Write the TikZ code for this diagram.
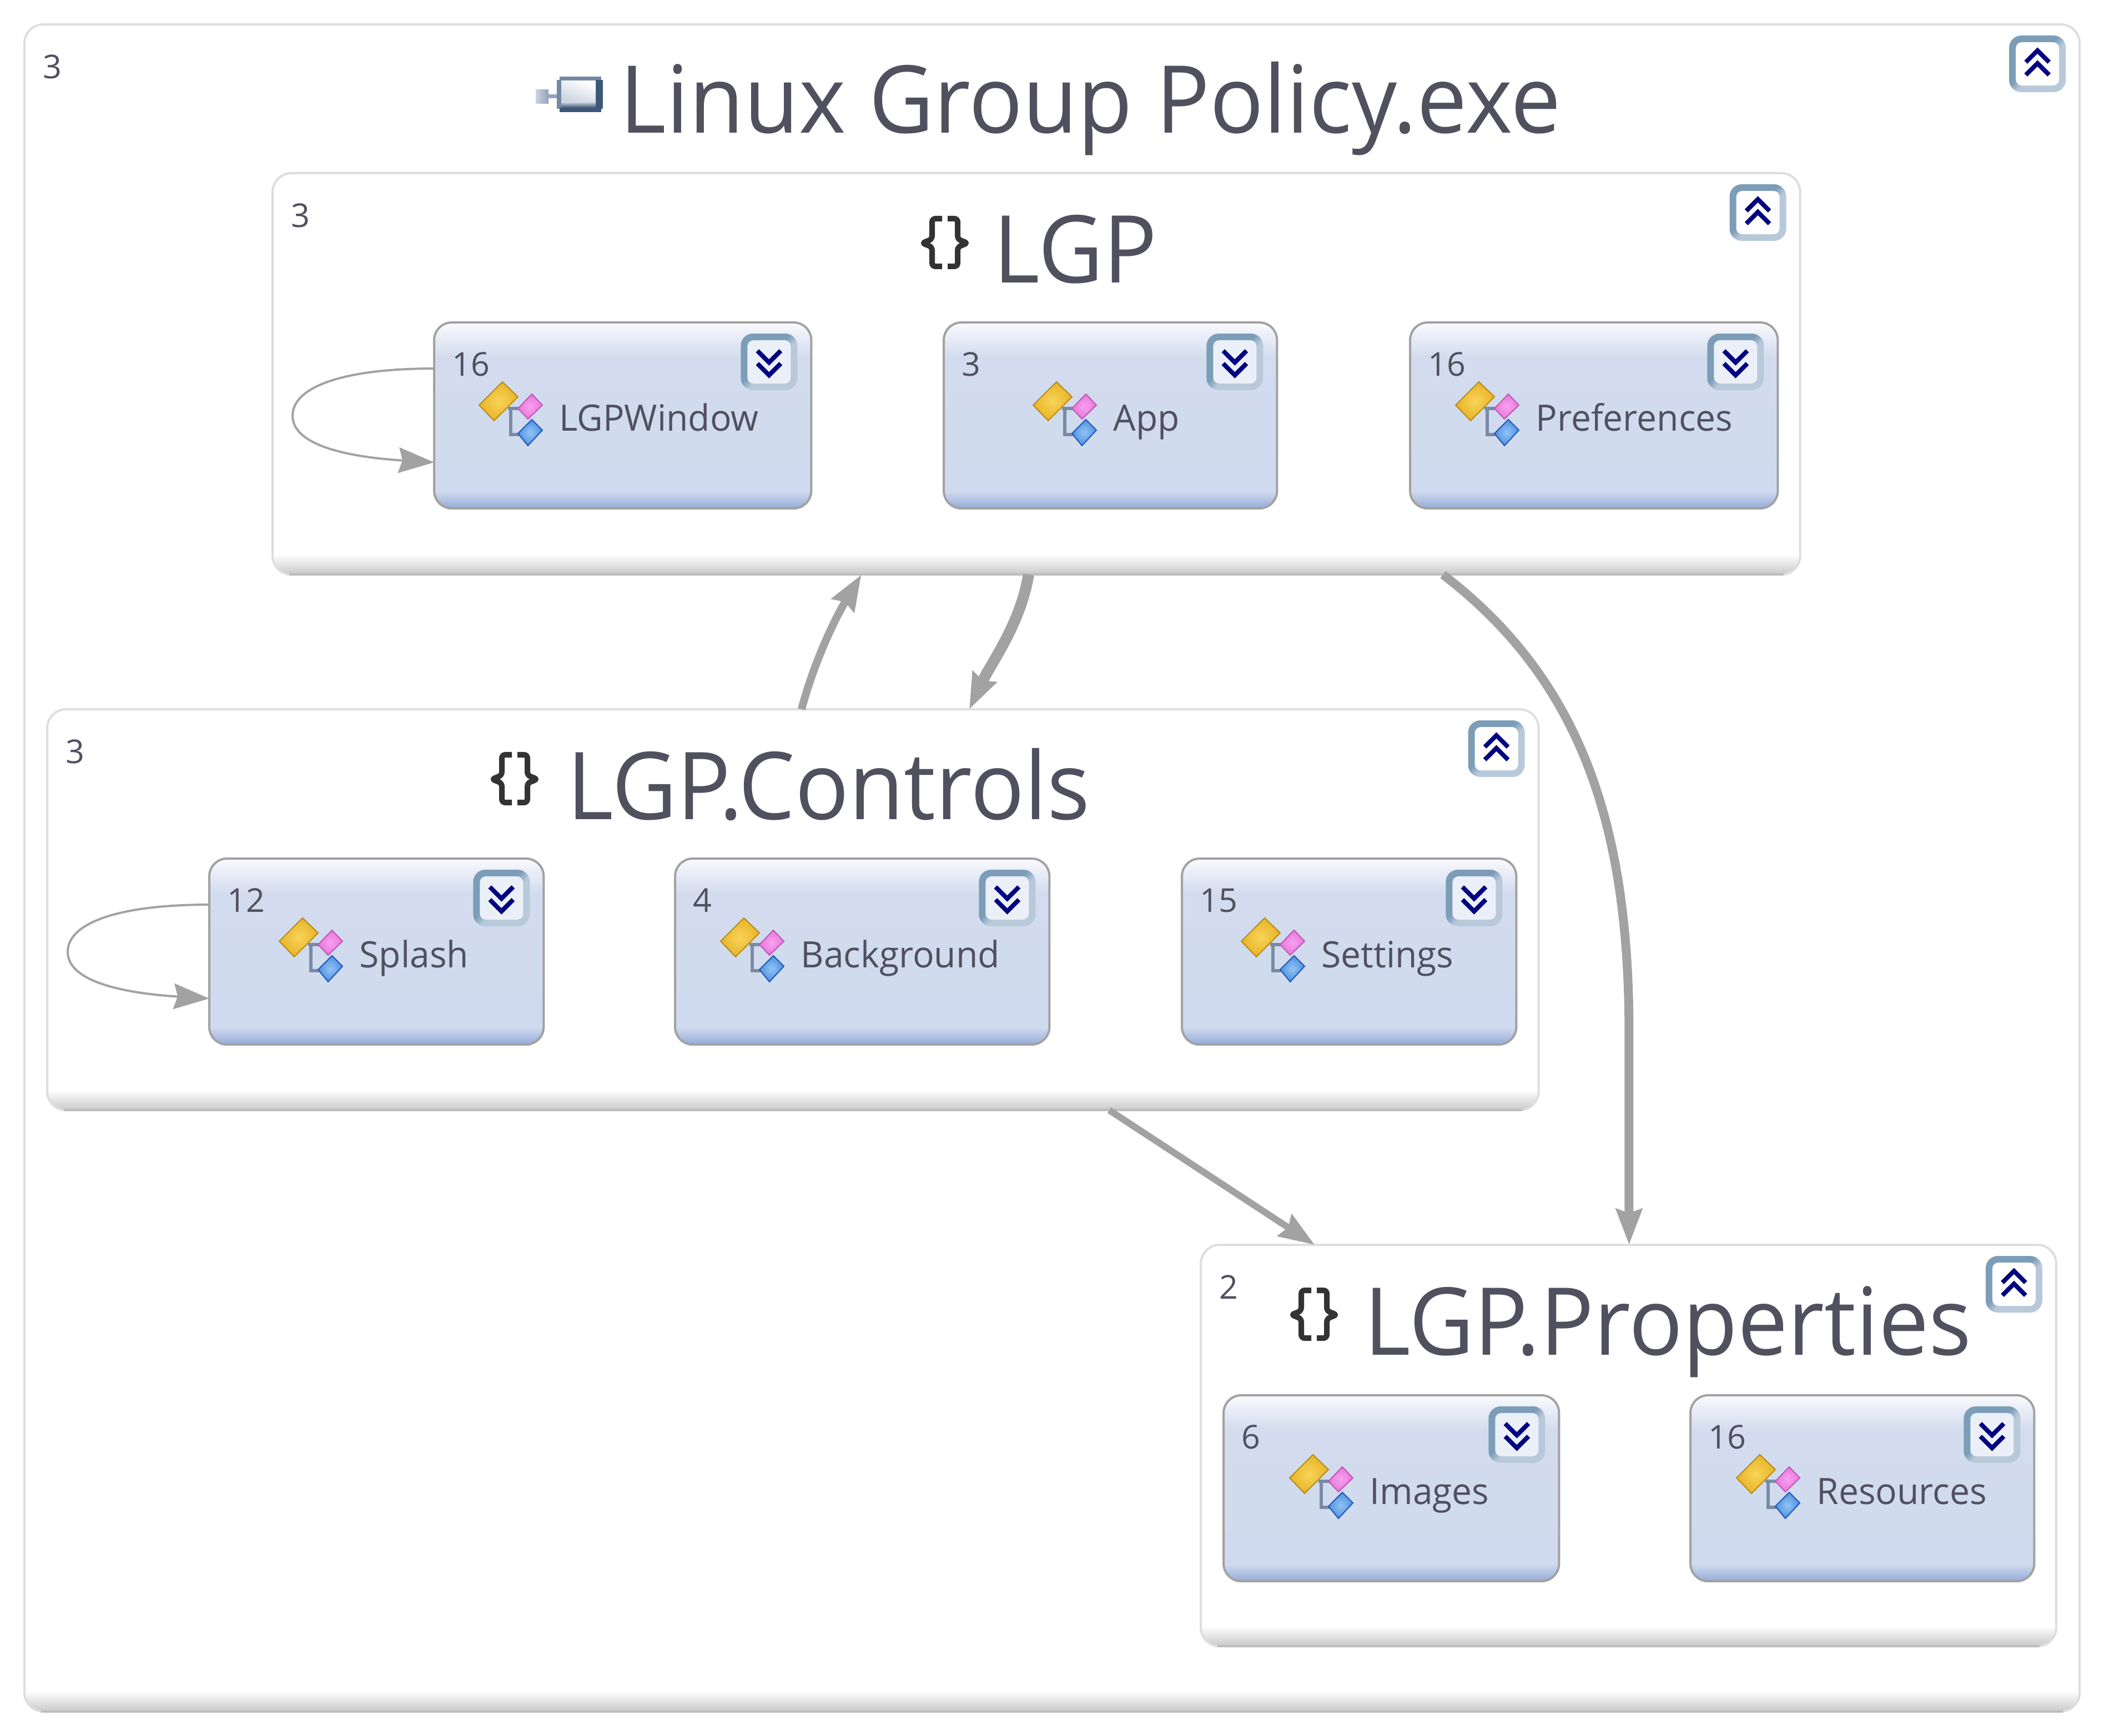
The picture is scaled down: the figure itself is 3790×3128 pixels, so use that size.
\documentclass[tikz,border=0pt]{standalone}
\usepackage{fontspec}
\setmainfont{Open Sans}
\newfontfamily\bigtitlefont[FakeStretch=0.955]{Open Sans}
\newfontfamily\typetitlefont[FakeStretch=0.98]{Open Sans}
\usetikzlibrary{arrows.meta}

\definecolor{inktext}{HTML}{50505F}
\definecolor{groupline}{HTML}{DEDEDE}
\definecolor{groupbase}{HTML}{BDBDBD}
\definecolor{groupshadow}{HTML}{C8C8C8}
\definecolor{linkgray}{HTML}{A2A2A2}
\definecolor{typetop}{HTML}{FAFBFD}
\definecolor{typemid}{HTML}{E8ECF7}
\definecolor{typefill}{HTML}{D3DCEE}
\definecolor{typelow}{HTML}{CFDAEE}
\definecolor{typebot}{HTML}{95ABD8}
\definecolor{ringdark}{HTML}{7C9DB8}
\definecolor{ringlight}{HTML}{B8C9DA}
\definecolor{chevblue}{HTML}{000080}
\definecolor{btnfill}{HTML}{EBF0F8}
\definecolor{iconline}{HTML}{7A8AA6}
\definecolor{yellowin}{HTML}{F8D458}
\definecolor{yellowout}{HTML}{E8B428}
\definecolor{yellowedge}{HTML}{B88C18}
\definecolor{pinkin}{HTML}{F8A0F0}
\definecolor{pinkout}{HTML}{E878D8}
\definecolor{pinkedge}{HTML}{C058B8}
\definecolor{bluein}{HTML}{90C4F4}
\definecolor{blueout}{HTML}{5090E0}
\definecolor{blueedge}{HTML}{2058B8}
\definecolor{exerim}{HTML}{7488A4}
\definecolor{exedark}{HTML}{3C5878}
\definecolor{exepale}{HTML}{CCD4E0}
\definecolor{exemid}{HTML}{93A3BC}

\pgfdeclareverticalshading{typeshade}{100bp}{color(0bp)=(typebot); color(25bp)=(typebot); color(29.6bp)=(typelow); color(65.7bp)=(typefill); color(71bp)=(typemid); color(75bp)=(typetop); color(100bp)=(typetop)}
\pgfdeclareverticalshading{groupshade}{100bp}{color(0bp)=(groupshadow); color(25bp)=(groupshadow); color(27.5bp)=(white); color(100bp)=(white)}
\pgfdeclareverticalshading{outershade}{100bp}{color(0bp)=(groupshadow); color(25bp)=(groupshadow); color(25.6bp)=(white); color(100bp)=(white)}
\pgfdeclareverticalshading{ringshade}{100bp}{color(0bp)=(ringlight); color(46bp)=(ringlight); color(54bp)=(ringdark); color(100bp)=(ringdark)}

\tikzset{
	groupbox/.style={anchor=north west, draw=groupline, line width=0.04cm, rounded corners=0.34cm, shade, shading=groupshade, inner sep=0, outer sep=0},
	typebox/.style={anchor=north west, draw=linkgray, line width=0.04cm, rounded corners=0.32cm, shade, shading=typeshade, inner sep=0, outer sep=0, minimum height=3.35cm},
	btnring/.style={shade, shading=ringshade, shading angle=45, rounded corners=0.22cm, inner sep=0, outer sep=0, minimum width=1.02cm, minimum height=1.02cm},
	btnface/.style={rounded corners=0.11cm, inner sep=0, outer sep=0, minimum width=0.78cm, minimum height=0.78cm},
	numtext/.style={anchor=base west, inner sep=0, text=inktext, font=\fontsize{16.8}{20}\selectfont},
	typetext/.style={anchor=base west, inner sep=0, text=inktext, font=\typetitlefont\fontsize{18.6}{22}\selectfont},
	bigtext/.style={anchor=base west, inner sep=0, text=inktext, font=\bigtitlefont\fontsize{48}{56}\selectfont},
	link/.style={draw=linkgray, -{Stealth[length=0.64cm, width=0.46cm, inset=0.07cm]}},
	chevup/.pic={
		\draw[chevblue, line width=0.08cm] (-21,-3) -- (0,-24) -- (21,-3);
		\draw[chevblue, line width=0.08cm] (-21,20) -- (0,-1) -- (21,20);
	},
	chevdown/.pic={
		\draw[chevblue, line width=0.08cm] (-21,3) -- (0,24) -- (21,3);
		\draw[chevblue, line width=0.08cm] (-21,-20) -- (0,1) -- (21,-20);
	},
	braceicon/.pic={
		\foreach \side in {1,-1}
			\draw[black!80, line width=0.1cm, rounded corners=0.06cm, xscale=\side] (-5,-44) -- (-23,-44) -- (-23,-7) -- (-41,0) -- (-23,7) -- (-23,42) -- (-5,42);
	},
	typeicon/.pic={
		\draw[iconline, line width=0.055cm] (52,48) -- (57,48) -- (57,95) -- (72,95) (57,48) -- (72,48);
		\shadedraw[inner color=yellowin, outer color=yellowout, draw=yellowedge, line width=0.02cm] (42,0) -- (70,27) -- (27,70) -- (0,42) -- cycle;
		\shadedraw[inner color=pinkin, outer color=pinkout, draw=pinkedge, line width=0.02cm] (95,22) -- (114,42) -- (88,67) -- (70,48) -- cycle;
		\shadedraw[inner color=bluein, outer color=blueout, draw=blueedge, line width=0.02cm] (95,68) -- (114,87) -- (88,115) -- (70,93) -- cycle;
	},
	exeicon/.pic={
		\shade[left color=exepale, right color=exemid] (0,24) rectangle (23,49);
		\fill[exemid] (23,32) rectangle (38,39);
		\fill[exerim] (38,6) rectangle (46,58);
		\fill[exerim] (43,0) rectangle (118,8);
		\fill[exedark] (43,56) rectangle (118,64);
		\fill[exedark] (108,6) rectangle (121,58);
		\shade[left color=white, right color=exepale, shading angle=-20] (46,8) rectangle (108,46);
		\shade[top color=exepale, bottom color=exedark] (46,46) rectangle (108,56);
	}
}

\begin{document}
\begin{tikzpicture}[x=0.01cm, y=-0.01cm]
	\useasboundingbox (0,0) rectangle (3790,3128);

	% groups
	\node[groupbox, shading=outershade, minimum width=37cm, minimum height=30.38cm] (exe) at (44,44) {};
	\node[groupbox, minimum width=27.5cm, minimum height=7.23cm] (lgp) at (491,312) {};
	\node[groupbox, minimum width=26.85cm, minimum height=7.22cm] (controls) at (85,1278) {};
	\node[groupbox, minimum width=15.4cm, minimum height=7.23cm] (props) at (2163,2243) {};
	\foreach \name in {exe, lgp, controls, props}
		\draw[groupbase, line width=0.04cm] ([xshift=0.3cm]\name.south west) -- ([xshift=-0.3cm]\name.south east);

	\foreach \name/\num in {exe/3, lgp/3, controls/3, props/2}
		\node[numtext] (\name-num) at ([xshift=0.33cm, yshift=-0.97cm]\name.north west) {\num};

	\foreach \name in {exe, lgp, controls, props} {
		\node[btnring] (\name-btn) at ([xshift=-0.76cm, yshift=-0.71cm]\name.north east) {};
		\node[btnface, fill=white] (\name-face) at (\name-btn) {};
		\pic at (\name-btn) {chevup};
	}

	% titles
	\pic at (965,138) {exeicon};
	\node[bigtext] (exe-title) at (1116,240) {Linux Group Policy.exe};
	\pic at (1702,438) {braceicon};
	\node[bigtext] (lgp-title) at (1789,510) {LGP};
	\pic at (927,1404) {braceicon};
	\node[bigtext] (controls-title) at (1021,1476) {LGP.Controls};
	\pic at (2367,2369) {braceicon};
	\node[bigtext] (props-title) at (2457,2441) {LGP.Properties};

	% types
	\foreach \name/\px/\py/\boxw/\iconx/\num/\ttl in {
		window/782/581/6.79/863/16/LGPWindow,
		app/1700/581/6.0/1861/3/App,
		prefs/2540/581/6.62/2622/16/Preferences,
		splash/377/1547/6.02/503/12/Splash,
		backgr/1216/1547/6.74/1298/4/Background,
		settings/2129/1547/6.02/2236/15/Settings,
		images/2204/2514/6.04/2323/6/Images,
		resources/3045/2514/6.19/3128/16/Resources} {
		\node[typebox, minimum width=\boxw cm] (\name) at (\px,\py) {};
		\node[numtext] (\name-num) at ([xshift=0.32cm, yshift=-0.96cm]\name.north west) {\num};
		\pic at (\iconx,\py+107) {typeicon};
		\node[typetext] (\name-title) at (\iconx+144,\py+196) {\ttl};
		\node[btnring] (\name-btn) at ([xshift=-0.76cm, yshift=-0.71cm]\name.north east) {};
		\node[btnface, fill=btnfill] (\name-face) at (\name-btn) {};
		\pic at (\name-btn) {chevdown};
	}

	% self references
	\foreach \name in {window, splash}
		\draw[link, line width=0.04cm] ([yshift=-0.83cm]\name.north west) .. controls +(-170,0) and +(0,-50) .. +(-255,85) .. controls +(0,60) and +(-130,-8) .. ([yshift=-2.52cm]\name.north west);

	% namespace links
	\draw[link, line width=0.14cm] ([xshift=13.58cm]controls.north west) .. controls +(24,-90) and +(-45,75) .. ([xshift=10.6cm]lgp.south west);
	\draw[link, line width=0.2cm] ([xshift=13.61cm]lgp.south west) .. controls +(-15,90) and +(40,-85) .. ([xshift=16.6cm]controls.north west);
	\draw[link, line width=0.16cm] ([xshift=21.07cm]lgp.south west) .. controls +(252,193) and +(0,-370) .. ([xshift=7.71cm, yshift=3.8cm]props.north west) -- ([xshift=7.71cm]props.north west);
	\draw[link, line width=0.12cm] ([xshift=19.12cm]controls.south west) -- ([xshift=2.05cm]props.north west);
\end{tikzpicture}
\end{document}
